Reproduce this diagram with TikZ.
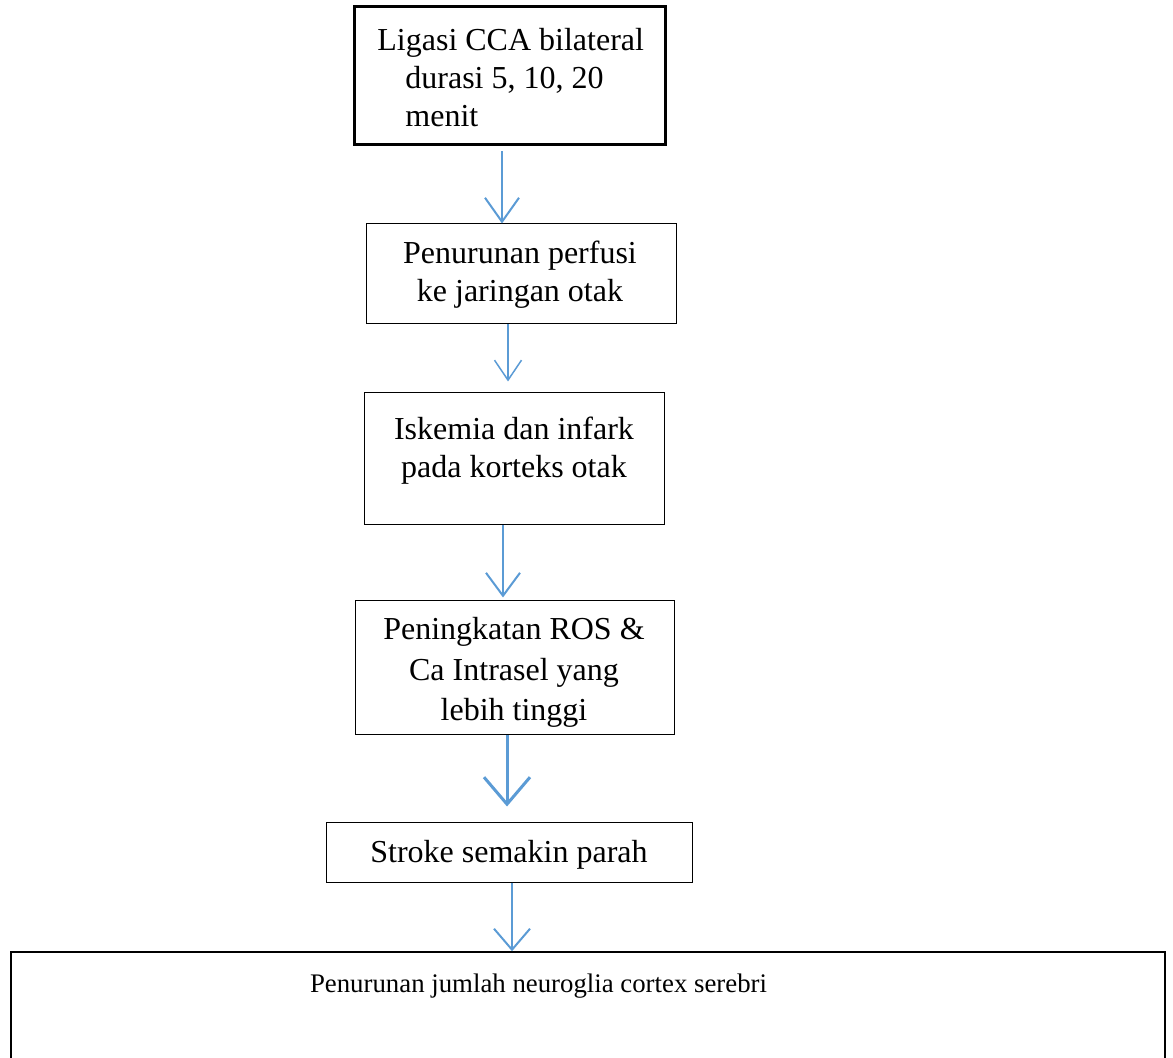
\documentclass[tikz,border=0pt]{standalone}
\usepackage{fontspec}
\setmainfont{Liberation Serif}
\usetikzlibrary{arrows.meta}
\definecolor{arrowblue}{HTML}{5B9BD5}
\begin{document}
\begin{tikzpicture}[x=0.5pt,y=-0.5pt,
	box/.style={draw=black, line width=0.5pt, inner sep=0pt},
	txt/.style={font=\fontsize{16}{19}\selectfont, align=center, inner sep=0pt},
	arr/.style={draw=arrowblue, line width=1pt, -{Straight Barb[length=12pt, width=17pt]}}]
		\useasboundingbox (0,0) rectangle (1173,1058);
		% boxes
		\node[box, line width=1.5pt, minimum width=155.5pt, minimum height=69pt] (lig) at (509.5,76) {};
		\node[box, minimum width=155pt, minimum height=50pt] (perf) at (521,274) {};
		\node[box, minimum width=150pt, minimum height=66pt] (isk) at (514,459) {};
		\node[box, minimum width=159.5pt, minimum height=67pt] (ros) at (514.5,668) {};
		\node[box, minimum width=183pt, minimum height=30pt] (strk) at (509,852) {};
		\node[box, line width=0.75pt, minimum width=577pt, minimum height=69pt] (glia) at (588,1021) {};
		% texts (base = last line)
		\node[txt, align=left, anchor=base west] (tlig) at (377,127) {Ligasi CCA bilateral\\\hspace*{14pt}durasi 5, 10, 20\\\hspace*{14pt}menit};
		\node[txt, anchor=base] (tperf) at (520,302) {Penurunan perfusi\\ke jaringan otak};
		\node[txt, anchor=base] (tisk) at (514,478) {Iskemia dan infark\\pada korteks otak};
		\node[txt, font=\fontsize{16}{20}\selectfont, anchor=base] (tros) at (514,720) {Peningkatan ROS \&\\Ca Intrasel yang\\lebih tinggi};
		\node[txt, anchor=base] (tstrk) at (509,862) {Stroke semakin parah};
		\node[txt, font=\fontsize{13.4}{16}\selectfont, anchor=base] (tglia) at (538.5,992) {Penurunan jumlah neuroglia cortex serebri};
		% arrows
		\draw[arr, shorten <=2.5pt] ([xshift=-3.75pt]lig.south) -- ([xshift=-3.75pt]lig.south |- perf.north);
		\draw[arr, line width=0.75pt, -{Straight Barb[length=10pt, width=13.5pt]}, shorten >=5.5pt] ([xshift=-6.5pt]perf.south) -- ([xshift=-6.5pt]perf.south |- isk.north);
		\draw[arr, -{Straight Barb[length=11.5pt, width=17pt]}, shorten >=1.5pt] ([xshift=-5.5pt]isk.south) -- ([xshift=-5.5pt]isk.south |- ros.north);
		\draw[arr, line width=1.5pt, -{Straight Barb[length=13.5pt, width=23pt]}, shorten >=7.5pt] ([xshift=-3.75pt]ros.south) -- ([xshift=-3.75pt]ros.south |- strk.north);
		\draw[arr, -{Straight Barb[length=10.5pt, width=18pt]}] ([xshift=1.5pt]strk.south) -- ([xshift=1.5pt]strk.south |- glia.north);
\end{tikzpicture}
\end{document}
